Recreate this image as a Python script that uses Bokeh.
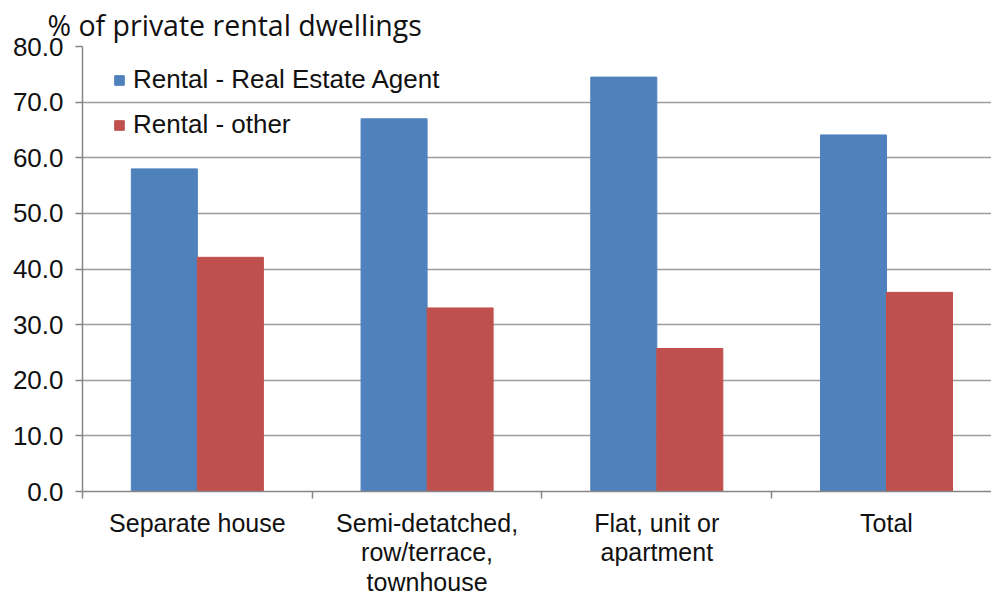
from bokeh.plotting import figure
from bokeh.models import ColumnDataSource, FixedTicker, Range1d, Title
from bokeh.embed import file_html
from bokeh.resources import INLINE

categories = ["Separate house", "Semi-detatched,\nrow/terrace,\ntownhouse", "Flat, unit or\napartment", "Total"]
series_names = ["Rental - Real Estate Agent", "Rental - other"]
agent = [58.0, 67.0, 74.5, 64.1]
other = [42.1, 33.0, 25.7, 35.8]
y_ticks = [0, 10, 20, 30, 40, 50, 60, 70, 80]

BLUE = "#4F81BD"
RED = "#C0504D"
GRID = "#9d9d9d"
AXIS = "#868686"

n = len(categories)
centers = [i + 0.5 for i in range(n)]
bw = 0.2874
src = ColumnDataSource(dict(
    xa=[c - bw / 2 for c in centers],
    xo=[c + bw / 2 for c in centers],
    agent=agent,
    other=other,
))

p = figure(frame_width=909, frame_height=445, output_backend="svg", toolbar_location=None,
           x_range=Range1d(0, 3.957), y_range=Range1d(0, 80),
           min_border_left=82, min_border_right=0, min_border_top=46, min_border_bottom=0)
p.outline_line_color = None
p.background_fill_color = "white"

p.vbar(x="xa", top="agent", width=bw, source=src, color=BLUE, legend_label=series_names[0])
p.vbar(x="xo", top="other", width=bw, source=src, color=RED, legend_label=series_names[1])

t = Title(text="% of private rental dwellings", align="left", offset=-35, standoff=6,
          text_font="Open Sans", text_font_size="28.5px", text_font_style="normal", text_color="#111111")
p.add_layout(t, "above")

# y axis
ya = p.yaxis[0]
ya.ticker = FixedTicker(ticks=y_ticks)
ya.major_label_overrides = {v: f"{v:.1f}" for v in y_ticks}
ya.major_label_text_font = "Liberation Sans"
ya.major_label_text_font_size = "26px"
ya.major_label_text_color = "#111111"
ya.major_tick_out = 7
ya.major_tick_in = 0
ya.minor_tick_out = 0
ya.minor_tick_in = 0
ya.major_label_standoff = 12
ya.axis_line_color = AXIS
ya.axis_line_width = 1.5
ya.major_tick_line_color = AXIS
ya.major_tick_line_width = 1.5

# x axis
xa = p.xaxis[0]
xa.ticker = FixedTicker(ticks=centers, minor_ticks=[0, 1, 2, 3, 4])
xa.major_label_overrides = {c: lab for c, lab in zip(centers, categories)}
xa.major_label_text_font = "Liberation Sans"
xa.major_label_text_font_size = "25px"
xa.major_label_text_color = "#111111"
xa.major_label_text_line_height = 1.06
xa.major_tick_out = 0
xa.major_tick_in = 0
xa.minor_tick_out = 7
xa.minor_tick_in = 0
xa.minor_tick_line_color = AXIS
xa.minor_tick_line_width = 1.5
xa.major_label_standoff = 10
xa.axis_line_color = AXIS
xa.axis_line_width = 1.5

p.xgrid.grid_line_color = None
p.ygrid.ticker = FixedTicker(ticks=y_ticks)
p.ygrid.grid_line_color = GRID
p.ygrid.grid_line_width = 1.6

lg = p.legend[0]
lg.location = (31, 351)
lg.border_line_color = None
lg.background_fill_alpha = 0
lg.label_text_font = "Liberation Sans"
lg.label_text_font_size = "26px"
lg.label_text_color = "#111111"
lg.glyph_width = 12
lg.glyph_height = 12
lg.label_standoff = 8
lg.spacing = 14
lg.margin = 0
lg.padding = 2

open("out.html", "w").write(file_html(p, INLINE))
